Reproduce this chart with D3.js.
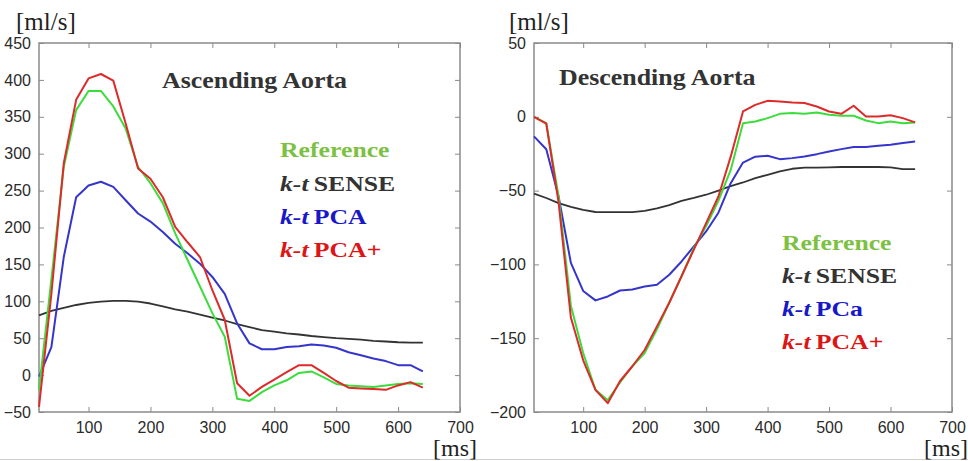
<!DOCTYPE html>
<html>
<head>
<meta charset="utf-8">
<script src="https://cdn.jsdelivr.net/npm/d3@7"></script>
<style>
  body { margin: 0; background: #fff; }
  .tick-label { font-family: "Liberation Sans", Arial, sans-serif; font-size: 16px; fill: #2a2a2a; }
  .serif { font-family: "Liberation Serif", "Times New Roman", serif; }
</style>
</head>
<body>
<div id="chart"></div>
<script>
const times = d3.range(20, 641, 20);

// Ascending aorta [ml/s]
const ascReference = [-20, 130, 282, 359, 385, 385, 364, 334, 282, 260, 233, 192, 156, 120, 84, 52,
  -32, -35, -23, -14, -7, 3, 5, -3, -12, -14, -15, -16, -14, -12, -11, -12];
const ascSense = [81, 87, 91, 95, 98, 99.5, 100.5, 100.5, 99.5, 97, 93, 89, 86, 82, 78, 74,
  69, 65, 61, 59, 56.5, 55, 53, 51.5, 50, 49, 48, 46.5, 45.5, 44.5, 44, 44];
const ascPca = [-2, 38, 160, 241, 257, 262, 255, 237, 219, 208, 194, 178, 165, 151, 133, 110,
  70, 43, 35, 35, 38, 39, 41.5, 40, 37, 31, 27, 22.5, 19, 13.5, 13.5, 5];
const ascPcaPlus = [-43, 110, 287, 373, 402, 408, 399, 341, 280, 266, 241, 201, 180, 160, 115, 75,
  -11, -28, -16, -6, 4, 13.5, 13.5, 3, -8, -17, -18, -19, -20, -14, -9.5, -17];

// Descending aorta [ml/s]
const descReference = [0, -4.3, -54, -128, -160, -185, -192, -180, -169, -160, -144, -126, -108, -89, -74, -57,
  -36, -4.3, -3.2, -0.9, 2, 2.5, 2, 2.9, 1.4, 0.7, 0.7, -2.5, -4.3, -3.2, -4.3, -3.8];
const descSense = [-52, -55, -58.5, -61, -63, -64.5, -64.6, -64.6, -64.6, -63.7, -62, -59.8, -57, -55, -52.8, -50,
  -47, -44.5, -41.5, -39.3, -37, -35.2, -34.5, -34.5, -34.3, -34, -34, -34, -34, -34.3, -35.4, -35.4];
const descPca = [-13.3, -22, -54, -99, -118, -124.4, -121.7, -117.7, -117, -115, -113.8, -107, -98, -87.8, -77.7, -65,
  -45, -31, -27, -26.4, -28.7, -28, -26.9, -25.3, -23.5, -21.9, -20.5, -20.5, -19.6, -19, -17.8, -16.7];
const descPcaPlus = [0, -4.7, -58, -136, -165, -185, -194, -179, -169, -158, -142, -126, -108, -90, -72, -54,
  -27, 3.6, 8.1, 10.8, 10.4, 9.7, 9.3, 7, 3.6, 2, 7.5, 0.2, 0.2, 1.1, -0.9, -3.8];

const ascTicks = d3.range(-50, 451, 50);
const descTicks = d3.range(-200, 51, 50);
const timeTicks = d3.range(100, 701, 100);

const colors = { ref: '#3ddc3d', sense: '#333333', pca: '#3535cc', pcaPlus: '#dd2a2a' };
const textColors = { ref: '#7cc142', sense: '#333333', pca: '#1818c8', pcaPlus: '#dd1515' };

const width = 968,
  height = 461;

const svg = d3.select('#chart').append('svg').attr('width', width).attr('height', height);

svg.append('line')
  .attr('x1', 0).attr('x2', width).attr('y1', 459.5).attr('y2', 459.5)
  .attr('stroke', '#d0d0d0').attr('stroke-width', 1);

const panels = [
  {
    left: 39, right: 460, top: 43, bottom: 412,
    yDomain: [-50, 450], yTicks: ascTicks,
    series: [
      { key: 'sense', values: ascSense },
      { key: 'pca', values: ascPca },
      { key: 'ref', values: ascReference },
      { key: 'pcaPlus', values: ascPcaPlus }
    ],
    title: 'Ascending Aorta', titleX: 162, titleY: 88,
    legend: { x: 280, ys: [157, 191, 224, 257], labels: ['PCA', 'PCA+'] },
    unitX: 16, msX: 433
  },
  {
    left: 534, right: 952, top: 43, bottom: 412,
    yDomain: [-200, 50], yTicks: descTicks,
    series: [
      { key: 'sense', values: descSense },
      { key: 'pca', values: descPca },
      { key: 'ref', values: descReference },
      { key: 'pcaPlus', values: descPcaPlus }
    ],
    title: 'Descending Aorta', titleX: 559, titleY: 85,
    legend: { x: 782, ys: [250, 283, 316, 349], labels: ['PCa', 'PCA+'] },
    unitX: 509, msX: 924
  }
];

panels.forEach(drawPanel);

function drawPanel(p) {
  const x = d3.scaleLinear().domain([20, 700]).range([p.left, p.right]);
  const y = d3.scaleLinear().domain(p.yDomain).range([p.bottom, p.top]);
  const g = svg.append('g');

  // inward ticks on all four sides, MATLAB style
  const tickLen = 5;
  const axisStyle = sel => {
    sel.attr('font-family', null).attr('font-size', null);
    sel.select('.domain').remove();
    sel.selectAll('.tick line').attr('stroke', '#8a8a8a').attr('stroke-width', 1);
    sel.selectAll('.tick text').attr('class', 'tick-label').attr('fill', null);
  };

  g.append('g')
    .attr('transform', `translate(0,${p.bottom})`)
    .call(d3.axisBottom(x).tickValues(timeTicks).tickSize(-tickLen).tickPadding(tickLen + 5))
    .call(axisStyle);

  g.append('g')
    .attr('transform', `translate(0,${p.top})`)
    .call(d3.axisTop(x).tickValues(timeTicks).tickSize(-tickLen).tickFormat(''))
    .call(axisStyle);

  g.append('g')
    .attr('transform', `translate(${p.left},0)`)
    .call(d3.axisLeft(y).tickValues(p.yTicks).tickSize(-tickLen).tickPadding(tickLen + 3))
    .call(axisStyle);

  g.append('g')
    .attr('transform', `translate(${p.right},0)`)
    .call(d3.axisRight(y).tickValues(p.yTicks).tickSize(-tickLen).tickFormat(''))
    .call(axisStyle);

  g.append('rect')
    .attr('x', p.left).attr('y', p.top)
    .attr('width', p.right - p.left).attr('height', p.bottom - p.top)
    .attr('fill', 'none').attr('stroke', '#8a8a8a').attr('stroke-width', 1.5);

  const line = d3.line()
    .x((d, i) => x(times[i]))
    .y(d => y(d));

  g.selectAll('.series')
    .data(p.series)
    .enter()
    .append('path')
    .attr('class', 'series')
    .attr('d', d => line(d.values))
    .attr('fill', 'none')
    .attr('stroke', d => colors[d.key])
    .attr('stroke-width', d => (d.key === 'sense' ? 1.8 : 2))
    .attr('stroke-linejoin', 'round');

  // title
  serifText(g, p.titleX, p.titleY, 24, 1.08)
    .attr('fill', '#333').attr('font-weight', 'bold').text(p.title);

  // legend
  const L = p.legend;
  serifText(g, L.x, L.ys[0], 22, 1.17)
    .attr('fill', textColors.ref).attr('font-weight', 'bold').text('Reference');
  legendItem(g, L.x, L.ys[1], 'SENSE', textColors.sense);
  legendItem(g, L.x, L.ys[2], L.labels[0], textColors.pca);
  legendItem(g, L.x, L.ys[3], L.labels[1], textColors.pcaPlus);

  // units
  serifText(g, p.unitX, 30, 25, 1)
    .attr('fill', '#222').text('[ml/s]');
  serifText(g, p.msX, 456, 24, 1)
    .attr('fill', '#222').text('[ms]');
}

function serifText(g, x, y, size, sx) {
  return g.append('text')
    .attr('class', 'serif')
    .attr('transform', `translate(${x},${y}) scale(${sx},1)`)
    .attr('font-size', size + 'px');
}

function legendItem(g, x, y, label, color) {
  const t = serifText(g, x, y, 22, 1.17).attr('fill', color).attr('font-weight', 'bold');
  t.append('tspan').attr('font-style', 'italic').text('k-t');
  t.append('tspan').text('\u2009' + label);
}
</script>
</body>
</html>
